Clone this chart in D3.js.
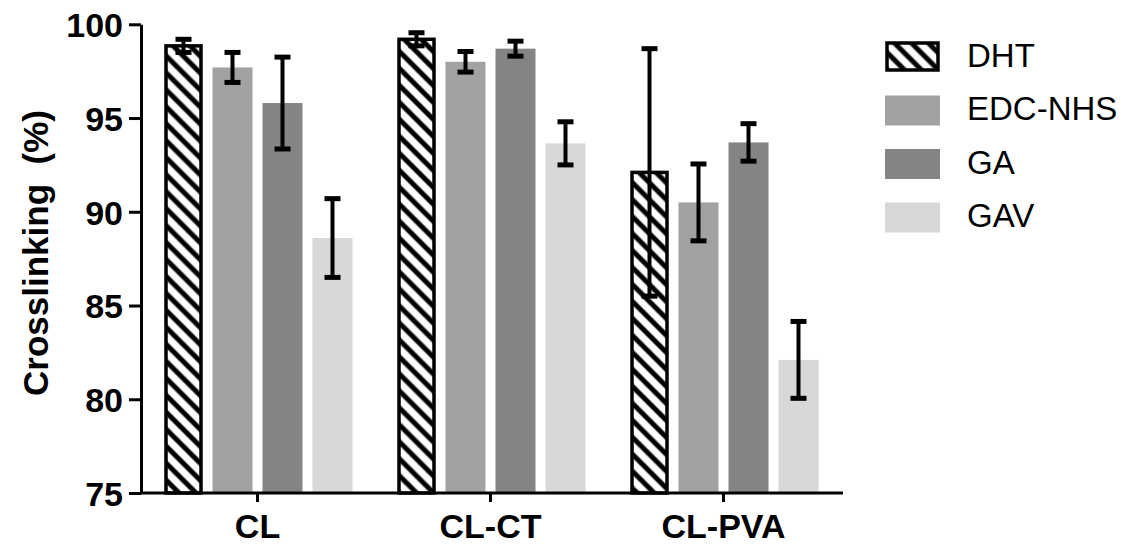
<!DOCTYPE html>
<html>
<head>
<meta charset="utf-8">
<script src="https://cdn.jsdelivr.net/npm/d3@7"></script>
<style>
  body { margin: 0; background: #fff; }
  svg { display: block; }
  .axis text { font-family: "Liberation Sans", Arial, sans-serif; font-weight: bold; fill: #000; }
</style>
</head>
<body>
<svg id="chart" width="1142" height="546"></svg>
<script>
// groups on the x axis
var groups = ["CL", "CL-CT", "CL-PVA"];
// crosslinking treatments (legend order)
var series = ["DHT", "EDC-NHS", "GA", "GAV"];
// mean values per series, in group order
var dhtMean = [98.85, 99.2, 92.1];
var edcMean = [97.7, 98.0, 90.5];
var gaMean = [95.8, 98.7, 93.7];
var gavMean = [88.6, 93.65, 82.1];
// error (+/-) per series
var dhtErr = [0.35, 0.35, 6.6];
var edcErr = [0.8, 0.55, 2.05];
var gaErr = [2.45, 0.4, 1.0];
var gavErr = [2.1, 1.15, 2.05];
var yTicks = [75, 80, 85, 90, 95, 100];

var means = [dhtMean, edcMean, gaMean, gavMean];
var errs = [dhtErr, edcErr, gaErr, gavErr];

var fills = {"DHT": "url(#hatch)", "EDC-NHS": "#a2a2a5", "GA": "#848484", "GAV": "#d8d8d8"};

var svg = d3.select("#chart");

// hatch pattern for DHT
var defs = svg.append("defs");
var pat = defs.append("pattern")
    .attr("id", "hatch")
    .attr("patternUnits", "userSpaceOnUse")
    .attr("width", 12)
    .attr("height", 12)
    .attr("patternTransform", "rotate(45)");
pat.append("rect").attr("width", 12).attr("height", 12).attr("fill", "#fff");
pat.append("line")
    .attr("x1", 0).attr("x2", 12)
    .attr("y1", 6).attr("y2", 6)
    .attr("stroke", "#000")
    .attr("stroke-width", 5);

var y = d3.scaleLinear().domain([75, 100]).range([493, 24.3]);
var x0 = d3.scaleBand().domain(groups).range([141, 840]);
var x1 = d3.scaleBand().domain(series).range([-100, 100]).paddingInner(0.2).paddingOuter(0.1);

// flatten the data
var rows = [];
groups.forEach(function(g, gi) {
    series.forEach(function(s, si) {
        rows.push({group: g, series: s, v: means[si][gi], e: errs[si][gi]});
    });
});

var plot = svg.append("g");

plot.selectAll("rect.bar")
    .data(rows)
    .enter()
    .append("rect")
    .attr("class", "bar")
    .attr("x", function(d) {
        var cx = x0(d.group) + x0.bandwidth() / 2 + x1(d.series);
        return d.series === "DHT" ? cx + 3.5 : cx;
    })
    .attr("width", function(d) { return d.series === "DHT" ? x1.bandwidth() - 5 : x1.bandwidth(); })
    .attr("y", function(d) { return y(d.v); })
    .attr("height", function(d) { return y(75) - y(d.v); })
    .style("fill", function(d) { return fills[d.series]; })
    .style("stroke", function(d) { return d.series === "DHT" ? "#000" : "none"; })
    .style("stroke-width", 3.5);

// error bars
var eb = plot.selectAll("g.err")
    .data(rows)
    .enter()
    .append("g")
    .attr("class", "err")
    .attr("transform", function(d) {
        var cx = x0(d.group) + x0.bandwidth() / 2 + x1(d.series) + x1.bandwidth() / 2;
        if (d.series === "DHT") cx += 1;
        return "translate(" + cx + ",0)";
    });

eb.append("line")
    .attr("y1", function(d) { return y(d.v + d.e); })
    .attr("y2", function(d) { return y(d.v - d.e); })
    .attr("stroke", "#000").attr("stroke-width", 4);
eb.append("line")
    .attr("x1", -8).attr("x2", 8)
    .attr("y1", function(d) { return y(d.v + d.e); })
    .attr("y2", function(d) { return y(d.v + d.e); })
    .attr("stroke", "#000").attr("stroke-width", 5);
eb.append("line")
    .attr("x1", -8).attr("x2", 8)
    .attr("y1", function(d) { return y(d.v - d.e); })
    .attr("y2", function(d) { return y(d.v - d.e); })
    .attr("stroke", "#000").attr("stroke-width", 5);

// y axis
var yAxis = svg.append("g")
    .attr("class", "axis")
    .attr("transform", "translate(141,0)")
    .call(d3.axisLeft(y).tickValues(yTicks).tickSize(12).tickSizeOuter(0).tickPadding(6));
yAxis.selectAll("path, line").attr("stroke", "#000").attr("stroke-width", 3);
yAxis.selectAll("text").style("font-size", "34px").attr("dy", "0.36em");

// x axis
var xAxis = svg.append("g")
    .attr("class", "axis")
    .attr("transform", "translate(0,493)")
    .call(d3.axisBottom(x0).tickSize(9).tickSizeOuter(0).tickPadding(12));
xAxis.select(".domain").attr("d", "M141,0H843");
xAxis.selectAll("path, line").attr("stroke", "#000").attr("stroke-width", 3);
xAxis.selectAll("text").style("font-size", "34px");

// y axis title
svg.append("text")
    .attr("transform", "translate(48,253) rotate(-90)")
    .attr("text-anchor", "middle")
    .style("font-family", "Liberation Sans, Arial, sans-serif")
    .style("font-weight", "bold")
    .style("font-size", "35px")
    .style("white-space", "pre")
    .text("Crosslinking  (%)");

// legend
var leg = svg.append("g").selectAll("g")
    .data(series)
    .enter()
    .append("g")
    .attr("transform", function(d, i) { return "translate(885," + (42 + i * 53.5) + ")"; });
leg.append("rect")
    .attr("x", function(d) { return d === "DHT" ? 2 : 0; })
    .attr("y", function(d) { return d === "DHT" ? 1 : 0; })
    .attr("width", function(d) { return d === "DHT" ? 51 : 55; })
    .attr("height", function(d) { return d === "DHT" ? 27 : 30; })
    .style("fill", function(d) { return fills[d]; })
    .style("stroke", function(d) { return d === "DHT" ? "#000" : "none"; })
    .style("stroke-width", 3.5);
leg.append("text")
    .attr("x", 82)
    .attr("y", 13)
    .attr("dy", "0.36em")
    .style("font-family", "Liberation Sans, Arial, sans-serif")
    .style("font-size", "33px")
    .text(function(d) { return d; });
</script>
</body>
</html>
